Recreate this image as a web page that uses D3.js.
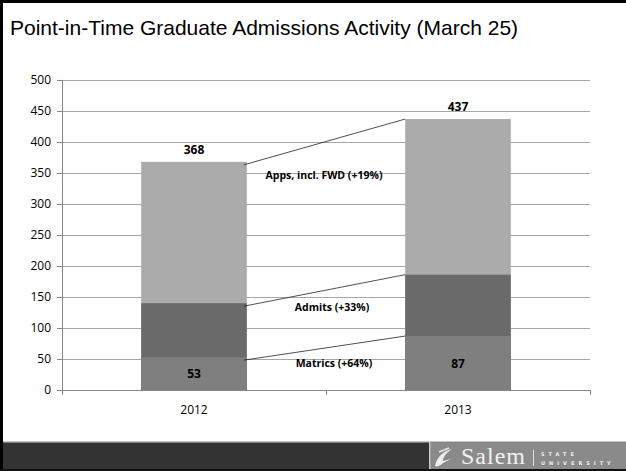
<!DOCTYPE html>
<html><head><meta charset="utf-8">
<script src="https://cdn.jsdelivr.net/npm/d3@7"></script>
<style>body{margin:0;background:#fff}svg{display:block}</style>
</head><body>
<svg id="c" width="626" height="471"></svg>
<script>
const years = ["2012", "2013"];
const apps = [368, 437];
const admits = [140, 186];
const matrics = [53, 87];
const seriesNames = ["Apps, incl. FWD (+19%)", "Admits (+33%)", "Matrics (+64%)"];
const yTicks = [0, 50, 100, 150, 200, 250, 300, 350, 400, 450, 500];

const svg = d3.select("#c");
const W = 626, H = 471;

svg.append("rect").attr("x", 0).attr("y", 0).attr("width", W).attr("height", H).attr("fill", "#fff");

const x = d3.scaleBand().domain(years).range([62, 590]).paddingInner(0.6).paddingOuter(0.3);
const y = d3.scaleLinear().domain([0, 500]).range([390, 80]);

// gridlines
svg.append("g").selectAll("line").data(yTicks.filter(d => d > 0)).join("line")
  .attr("x1", 62).attr("x2", 590).attr("y1", d => y(d)).attr("y2", d => y(d))
  .attr("stroke", "#a6a6a6").attr("stroke-width", 1).attr("shape-rendering", "crispEdges");

// y axis
const ya = svg.append("g").attr("transform", "translate(62,0)")
  .call(d3.axisLeft(y).tickValues(yTicks).tickSize(5).tickPadding(6));
ya.selectAll("path,line").attr("stroke", "#888").attr("shape-rendering", "crispEdges");
ya.select(".domain").attr("d", `M-5,${y(500)}H0V${y(0)}`);
ya.selectAll("text").attr("font-family", "Open Sans, sans-serif").attr("font-size", 12).attr("fill", "#000");

// x axis
const xEdges = [62, 326, 590];
svg.append("g").selectAll("line").data(xEdges).join("line")
  .attr("x1", d => d).attr("x2", d => d).attr("y1", 390).attr("y2", 395)
  .attr("stroke", "#888").attr("shape-rendering", "crispEdges");
svg.append("line").attr("x1", 62).attr("x2", 590).attr("y1", 390).attr("y2", 390)
  .attr("stroke", "#888").attr("shape-rendering", "crispEdges");
svg.append("g").selectAll("text").data(years).join("text")
  .attr("x", d => x(d) + x.bandwidth() / 2).attr("y", 414)
  .attr("text-anchor", "middle").attr("font-family", "Open Sans, sans-serif").attr("font-size", 12)
  .text(d => d);

// bars (overlapping)
const layers = [
  { vals: apps, color: "#ababab" },
  { vals: admits, color: "#6a6a6a" },
  { vals: matrics, color: "#7f7f7f" }
];
layers.forEach(L => {
  svg.append("g").selectAll("rect").data(years).join("rect")
    .attr("x", d => x(d)).attr("width", x.bandwidth())
    .attr("y", (d, i) => y(L.vals[i])).attr("height", (d, i) => y(0) - y(L.vals[i]))
    .attr("fill", L.color);
});

// series lines
[apps, admits, matrics].forEach(v => {
  svg.append("line")
    .attr("x1", x(years[0]) + x.bandwidth() - 3).attr("y1", y(v[0]) + 3)
    .attr("x2", x(years[1])).attr("y2", y(v[1]))
    .attr("stroke", "#222").attr("stroke-width", 0.8);
});

// series labels
const lab = [
  { t: seriesNames[0], x: 324, y: 179 },
  { t: seriesNames[1], x: 332, y: 311 },
  { t: seriesNames[2], x: 334, y: 367 }
];
svg.append("g").selectAll("text").data(lab).join("text")
  .attr("x", d => d.x).attr("y", d => d.y).attr("text-anchor", "middle")
  .attr("font-family", "Open Sans, sans-serif").attr("font-weight", "bold").attr("font-size", 10.5)
  .text(d => d.t);

// value labels
const vl = svg.append("g");
years.forEach((yr, i) => {
  vl.append("text").attr("x", x(yr) + x.bandwidth() / 2).attr("y", y(apps[i]) - 8)
    .attr("text-anchor", "middle").attr("font-family", "Open Sans, sans-serif").attr("font-weight", "bold").attr("font-size", 12)
    .text(apps[i]);
});
vl.append("text").attr("x", x(years[0]) + x.bandwidth() / 2).attr("y", 378)
  .attr("text-anchor", "middle").attr("font-family", "Open Sans, sans-serif").attr("font-weight", "bold").attr("font-size", 12)
  .text(matrics[0]);
vl.append("text").attr("x", x(years[1]) + x.bandwidth() / 2).attr("y", 368)
  .attr("text-anchor", "middle").attr("font-family", "Open Sans, sans-serif").attr("font-weight", "bold").attr("font-size", 12)
  .text(matrics[1]);

// title
svg.append("text").attr("x", 10).attr("y", 35)
  .attr("font-family", "Liberation Sans, Arial, sans-serif").attr("font-size", 21)
  .text("Point-in-Time Graduate Admissions Activity (March 25)");

// footer
svg.append("rect").attr("x", 0).attr("y", 441).attr("width", W).attr("height", 30).attr("fill", "#333");
svg.append("rect").attr("x", 0).attr("y", 441).attr("width", W).attr("height", 1.5).attr("fill", "#c8c8c8");
svg.append("rect").attr("x", 429).attr("y", 442.5).attr("width", W - 429).attr("height", 27).attr("fill", "#8a8a8a");
svg.append("rect").attr("x", 429).attr("y", 441).attr("width", 1.5).attr("height", 29).attr("fill", "#c8c8c8");
// logo mark
svg.append("path").attr("d", "M435,466 C437,457 443,451 452,449 C446,453 443,457 443,461 L451,459 L443,463 C440,466 437,467 435,466 Z")
  .attr("fill", "#eee");
svg.append("path").attr("d", "M439,452 L449,448").attr("stroke", "#eee").attr("stroke-width", 1.5);
svg.append("text").attr("x", 461).attr("y", 464).attr("font-family", "Liberation Serif, serif").attr("font-size", 24)
  .attr("letter-spacing", 1).attr("fill", "#f2f2f2").text("Salem");
svg.append("line").attr("x1", 533.5).attr("x2", 533.5).attr("y1", 450).attr("y2", 466).attr("stroke", "#ddd");
svg.append("text").attr("x", 541).attr("y", 455.5).attr("font-family", "DejaVu Sans, sans-serif").attr("font-size", 5).attr("font-weight", "bold")
  .attr("letter-spacing", 4).attr("fill", "#eee").text("STATE");
svg.append("text").attr("x", 541).attr("y", 465).attr("font-family", "DejaVu Sans, sans-serif").attr("font-size", 5).attr("font-weight", "bold")
  .attr("letter-spacing", 4).attr("fill", "#eee").text("UNIVERSITY");

// frame (top, left, bottom)
svg.append("rect").attr("x", 0).attr("y", 0).attr("width", W).attr("height", 3).attr("fill", "#000");
svg.append("rect").attr("x", 0).attr("y", 0).attr("width", 3).attr("height", H).attr("fill", "#000");
svg.append("rect").attr("x", 0).attr("y", H - 2).attr("width", W).attr("height", 2).attr("fill", "#111");
</script>
</body></html>
